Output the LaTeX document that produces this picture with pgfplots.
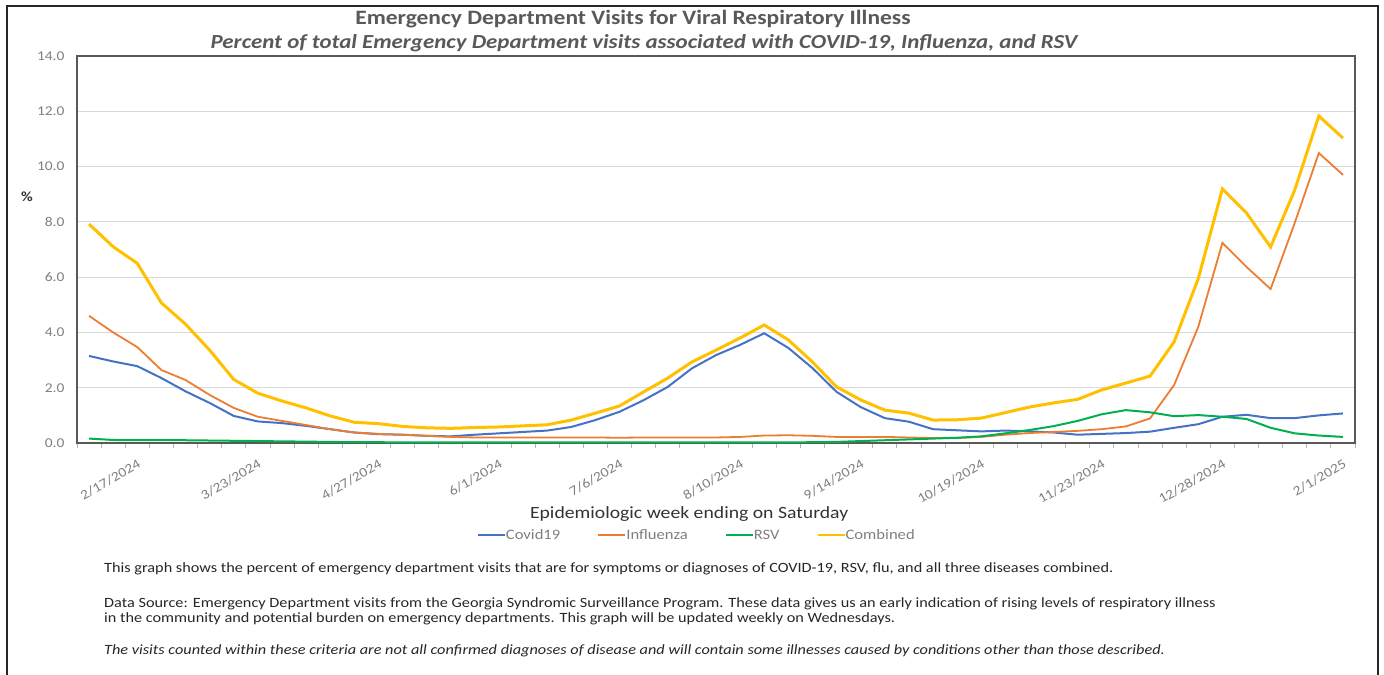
\documentclass[border=0pt]{standalone}
\usepackage{fontspec}
\setmainfont{Carlito}
\newfontfamily\widefont{Carlito}[FakeStretch=1.15]
\usepackage{pgfplots}
\usepackage{pgfplotstable}
\pgfplotsset{compat=1.18}

\definecolor{covid}{HTML}{4472C4}
\definecolor{flu}{HTML}{ED7D31}
\definecolor{rsv}{HTML}{00B050}
\definecolor{comb}{HTML}{FFC000}
\definecolor{labgray}{HTML}{7F7F7F}
\definecolor{titlegray}{HTML}{595959}
\definecolor{framegray}{HTML}{595959}

% week index 0 = 2/3/2024 ... 52 = 2/1/2025
\pgfplotstableread{
wk covid flu rsv comb
0 3.15 4.60 0.16 7.92
1 2.95 4.00 0.11 7.10
2 2.78 3.47 0.10 6.50
3 2.35 2.64 0.10 5.07
4 1.87 2.28 0.10 4.30
5 1.45 1.74 0.09 3.36
6 0.98 1.27 0.08 2.30
7 0.78 0.95 0.07 1.80
8 0.72 0.80 0.06 1.52
9 0.62 0.65 0.05 1.27
10 0.50 0.50 0.04 0.98
11 0.38 0.38 0.03 0.75
12 0.32 0.33 0.03 0.70
13 0.30 0.30 0.02 0.60
14 0.26 0.26 0.02 0.55
15 0.24 0.22 0.02 0.53
16 0.30 0.20 0.02 0.56
17 0.35 0.20 0.02 0.58
18 0.40 0.20 0.02 0.62
19 0.45 0.20 0.02 0.66
20 0.58 0.20 0.02 0.83
21 0.83 0.20 0.02 1.08
22 1.13 0.19 0.02 1.34
23 1.55 0.20 0.02 1.85
24 2.03 0.20 0.02 2.35
25 2.70 0.20 0.02 2.93
26 3.18 0.20 0.02 3.36
27 3.55 0.22 0.02 3.80
28 3.97 0.27 0.02 4.27
29 3.44 0.28 0.02 3.73
30 2.71 0.26 0.03 2.93
31 1.85 0.22 0.04 2.03
32 1.30 0.22 0.07 1.56
33 0.90 0.22 0.10 1.19
34 0.77 0.20 0.13 1.08
35 0.50 0.18 0.16 0.83
36 0.46 0.18 0.19 0.84
37 0.42 0.22 0.24 0.90
38 0.45 0.30 0.35 1.10
39 0.42 0.36 0.47 1.30
40 0.38 0.40 0.61 1.45
41 0.30 0.44 0.80 1.58
42 0.33 0.50 1.04 1.92
43 0.36 0.60 1.19 2.17
44 0.41 0.89 1.11 2.42
45 0.55 2.10 0.97 3.66
46 0.68 4.20 1.01 5.95
47 0.95 7.24 0.95 9.19
48 1.02 6.37 0.87 8.32
49 0.90 5.57 0.55 7.09
50 0.90 7.96 0.35 9.15
51 1.00 10.49 0.27 11.83
52 1.07 9.70 0.22 11.03
}\edvisits

\begin{document}
\begin{tikzpicture}
\useasboundingbox (0bp,0bp) rectangle (1384bp,-675bp);
% outer frame
\draw[line width=2bp, black!85] (7bp,-675bp) -- (7bp,-6bp) -- (1378bp,-6bp) -- (1378bp,-675bp);

% titles
\node[font=\widefont\fontsize{20.5}{23}\selectfont\bfseries, text=titlegray] at (633bp,-19bp)
  {Emergency Department Visits for Viral Respiratory Illness};
\node[font=\widefont\fontsize{20}{23}\selectfont\bfseries\itshape, text=titlegray] at (644bp,-43bp)
  {Percent of total Emergency Department visits associated with COVID-19, Influenza, and RSV};
\node[font=\widefont\fontsize{14}{16}\selectfont\bfseries, text=black!80] at (27bp,-197bp) {\%};

\begin{axis}[
  at={(77bp,-443bp)}, anchor=south west,
  scale only axis, width=1278bp, height=387bp,
  xmin=-0.5, xmax=52.5, ymin=0, ymax=14,
  ytick={0,2,...,14},
  ymajorgrids, grid style={draw=black!15, line width=0.8bp},
  yticklabel style={font=\widefont\fontsize{13.5}{16}\selectfont, text=labgray, xshift=-9bp},
  /pgf/number format/.cd, fixed, fixed zerofill, precision=1, assume math mode=true,
  /pgfplots/.cd,
  xtick={2,7,...,52},
  xticklabels={2/17/2024,3/23/2024,4/27/2024,6/1/2024,7/6/2024,8/10/2024,9/14/2024,10/19/2024,11/23/2024,12/28/2024,2/1/2025},
  xticklabel style={rotate=30, anchor=north east, inner sep=0pt, xshift=-8bp, yshift=-13bp,
    font=\widefont\fontsize{13.5}{15}\selectfont, text=labgray},
  minor xtick={-0.5,0.5,...,52.5},
  major tick length=0pt, minor tick length=5bp, tick align=outside,
  xtick pos=bottom, ytick pos=left,
  minor tick style={draw=black!30, line width=0.8bp},
  axis line style={draw=framegray, line width=1.6bp},
  xlabel={Epidemiologic week ending on Saturday},
  xlabel style={font=\widefont\fontsize{17.2}{20}\selectfont, text=black!80, at={(0.479,-0.184)}, anchor=center},
  legend style={at={(0.485,-0.238)}, anchor=center, draw=none, fill=none,
    legend columns=4, font=\widefont\fontsize{14.5}{16}\selectfont, text=labgray,
    /tikz/every even column/.append style={column sep=35bp},
    /tikz/every odd column/.append style={column sep=-2bp}},
  legend image code/.code={\draw[#1, line width=2bp] (0bp,0bp) -- (27bp,0bp);},
]
\addplot[covid, line width=2bp] table[x=wk, y=covid] {\edvisits};
\addlegendentry{Covid19}
\addplot[flu, line width=1.8bp] table[x=wk, y=flu] {\edvisits};
\addlegendentry{Influenza}
\addplot[rsv, line width=2bp] table[x=wk, y=rsv] {\edvisits};
\addlegendentry{RSV}
\addplot[comb, line width=3bp] table[x=wk, y=comb] {\edvisits};
\addlegendentry{Combined}
\end{axis}

% notes
\begin{scope}[every node/.style={anchor=base west, inner sep=0pt, text=black!85, font=\widefont\fontsize{14.2}{16}\selectfont}]
\node at (104bp,-572bp) {This graph shows the percent of emergency department visits that are for symptoms or diagnoses of COVID-19, RSV, flu, and all three diseases combined.};
\node at (104bp,-607bp) {Data Source: Emergency Department visits from the Georgia Syndromic Surveillance Program. These data gives us an early indication of rising levels of respiratory illness};
\node at (104bp,-622bp) {in the community and potential burden on emergency departments. This graph will be updated weekly on Wednesdays.};
\node[font=\widefont\fontsize{14.2}{16}\selectfont\itshape] at (104bp,-654bp) {The visits counted within these criteria are not all confirmed diagnoses of disease and will contain some illnesses caused by conditions other than those described.};
\end{scope}
\end{tikzpicture}
\end{document}
